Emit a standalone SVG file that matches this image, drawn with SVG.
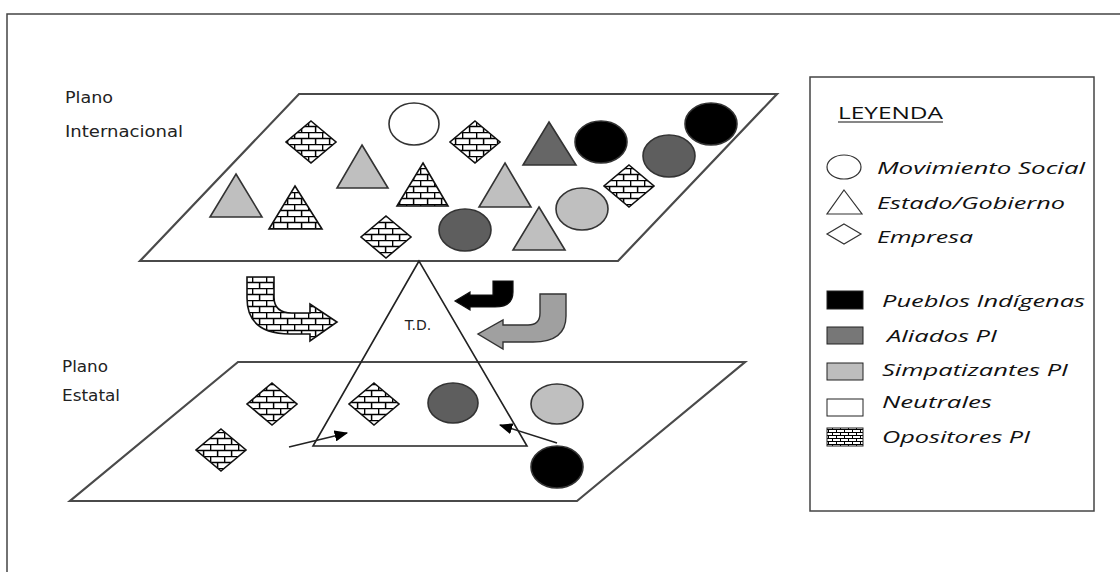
<svg xmlns="http://www.w3.org/2000/svg" width="1120" height="572" viewBox="0 0 1120 572">
<defs>
<pattern id="brick" patternUnits="userSpaceOnUse" width="14" height="12">
<rect width="14" height="12" fill="#fff"/>
<path d="M0,0.6H14M0,6.6H14M0.6,0V6.6M7.6,6.6V12" stroke="#000" stroke-width="1.5" fill="none"/>
</pattern>
<pattern id="brickS" patternUnits="userSpaceOnUse" width="8" height="6">
<rect width="8" height="6" fill="#fff"/>
<path d="M0,0.5H8M0,3.5H8M0.5,0V3.5M4.5,3.5V6" stroke="#000" stroke-width="1" fill="none"/>
</pattern>
<marker id="ah" viewBox="0 0 12 10" refX="11" refY="5" markerWidth="9" markerHeight="7.5" orient="auto" markerUnits="strokeWidth">
<path d="M0,0L12,5L0,10Z" fill="#000"/>
</marker>
</defs>
<style>
.plane{fill:#fff;stroke:#4a4a4a;stroke-width:2.2}
.shp{stroke:#333;stroke-width:1.6}
.brk{fill:url(#brick);stroke:#111;stroke-width:1.6}
.blk{fill:#000}
.dk{fill:#5e5e5e}
.lt{fill:#bfbfbf}
.wh{fill:#fff}
.lbl{font-family:"DejaVu Sans",sans-serif;font-size:16px;fill:#222}
.leg{font-family:"Open Sans","Liberation Sans",sans-serif;font-style:italic;font-size:16px;fill:#111}
.conn{stroke:#222;stroke-width:1.5;fill:none}
</style>
<path d="M7,572V14H1120" fill="none" stroke="#444" stroke-width="1.5"/>

<g id="plano-internacional">
<path class="plane" d="M299,94H777L618,261H140Z"/>
<text class="lbl" x="65" y="103" textLength="48" lengthAdjust="spacingAndGlyphs">Plano</text>
<text class="lbl" x="65" y="137" textLength="118" lengthAdjust="spacingAndGlyphs">Internacional</text>
</g>

<g id="plano-estatal">
<path class="plane" d="M238,362H745L577,501H70Z"/>
<text class="lbl" x="62" y="372" textLength="46" lengthAdjust="spacingAndGlyphs">Plano</text>
<text class="lbl" x="62" y="401" textLength="58" lengthAdjust="spacingAndGlyphs">Estatal</text>
</g>

<g id="td">
<path d="M419,261L313,446H527Z" fill="none" stroke="#222" stroke-width="1.6"/>
<text x="418" y="330" text-anchor="middle" font-family="DejaVu Sans,sans-serif" font-size="14" fill="#222">T.D.</text>
</g>

<g id="actores-internacional">
<path id="i1" class="brk" d="M311,121L336,142L311,163L286,142Z"/>
<ellipse id="i2" class="shp wh" cx="414" cy="124" rx="25" ry="21"/>
<path id="i3" class="brk" d="M475,121L500,142L475,163L450,142Z"/>
<path id="i4" class="shp" d="M549,122L576,165H523Z" fill="#666"/>
<ellipse id="i5" class="shp blk" cx="601" cy="142" rx="26" ry="21"/>
<ellipse id="i6" class="shp dk" cx="669" cy="156" rx="26" ry="21"/>
<ellipse id="i7" class="shp blk" cx="711" cy="124" rx="26" ry="21"/>
<path id="i8" class="shp lt" d="M236,174L262,217H210Z"/>
<path id="i9" class="brk" d="M295,186L322,229H269Z"/>
<path id="i10" class="shp lt" d="M362,145L388,188H337Z"/>
<path id="i11" class="brk" d="M423,163L448,206H397Z"/>
<path id="i12" class="shp lt" d="M505,163L531,207H479Z"/>
<path id="i13" class="brk" d="M629,165L654,186L629,207L604,186Z"/>
<ellipse id="i14" class="shp lt" cx="582" cy="209" rx="26" ry="21"/>
<path id="i15" class="brk" d="M386,216L411,237L386,258L361,237Z"/>
<ellipse id="i16" class="shp dk" cx="465" cy="230" rx="26" ry="21"/>
<path id="i17" class="shp lt" d="M539,207L565,250H513Z"/>
</g>

<g id="actores-estatal">
<path id="e1" class="brk" d="M272,383L297,404L272,425L247,404Z"/>
<path id="e2" class="brk" d="M221,429L246,450L221,471L196,450Z"/>
<path id="e3" class="brk" d="M374,383L399,404L374,425L349,404Z"/>
<ellipse id="e4" class="shp dk" cx="453" cy="403" rx="25" ry="20"/>
<ellipse id="e5" class="shp lt" cx="557" cy="404" rx="26" ry="20"/>
<ellipse id="e6" class="shp blk" cx="557" cy="467" rx="26" ry="21"/>
</g>

<g id="flechas-curvas">
<path id="f-opositores" class="brk" d="M247,277H274V297Q274,313 292,313H310V304L337,322L310,341V334H290Q247,334 247,298Z"/>
<path id="f-indigenas" d="M493,281H513V292Q513,307 495,307H470V310L455,301L470,292V295H493Z" fill="#000" stroke="#111" stroke-width="1.2"/>
<path id="f-simpatizantes" d="M540,294H566V316Q566,342 533,342H503V349L478,334L503,320V325H528Q540,325 540,313Z" fill="#a0a0a0" stroke="#333" stroke-width="1.4"/>
</g>

<g id="conectores">
<line class="conn" x1="289" y1="447" x2="347" y2="433" marker-end="url(#ah)"/>
<line class="conn" x1="557" y1="443" x2="500" y2="425" marker-end="url(#ah)"/>
</g>

<g id="leyenda">
<rect x="810" y="77" width="284" height="434" fill="#fff" stroke="#444" stroke-width="1.5"/>
<text x="838" y="119" font-family="Open Sans,Liberation Sans,sans-serif" font-size="16" fill="#111" textLength="105" lengthAdjust="spacingAndGlyphs">LEYENDA</text>
<line x1="838" y1="122" x2="943" y2="122" stroke="#111" stroke-width="1.2"/>
<ellipse cx="844" cy="167" rx="17" ry="12" fill="#fff" stroke="#333" stroke-width="1.2"/>
<text class="leg" x="877" y="174" textLength="208" lengthAdjust="spacingAndGlyphs">Movimiento Social</text>
<path d="M844,190L862,214H827Z" fill="#fff" stroke="#333" stroke-width="1.2"/>
<text class="leg" x="877" y="209" textLength="188" lengthAdjust="spacingAndGlyphs">Estado/Gobierno</text>
<path d="M844,224L861,234L844,244L827,234Z" fill="#fff" stroke="#333" stroke-width="1.2"/>
<text class="leg" x="877" y="243" textLength="96" lengthAdjust="spacingAndGlyphs">Empresa</text>
<rect x="827" y="291" width="36" height="18" fill="#000" stroke="#222"/>
<text class="leg" x="882" y="307" textLength="203" lengthAdjust="spacingAndGlyphs">Pueblos Indígenas</text>
<rect x="827" y="327" width="36" height="17" fill="#777" stroke="#222"/>
<text class="leg" x="887" y="342" textLength="110" lengthAdjust="spacingAndGlyphs">Aliados PI</text>
<rect x="827" y="363" width="36" height="17" fill="#bdbdbd" stroke="#222"/>
<text class="leg" x="882" y="376" textLength="186" lengthAdjust="spacingAndGlyphs">Simpatizantes PI</text>
<rect x="827" y="399" width="36" height="17" fill="#fff" stroke="#222"/>
<text class="leg" x="882" y="408" textLength="110" lengthAdjust="spacingAndGlyphs">Neutrales</text>
<rect x="827" y="428" width="36" height="18" fill="url(#brickS)" stroke="#222"/>
<text class="leg" x="882" y="443" textLength="148" lengthAdjust="spacingAndGlyphs">Opositores PI</text>
</g>
</svg>
